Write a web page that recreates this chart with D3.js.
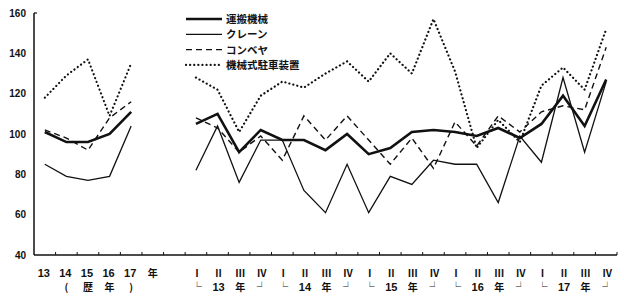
<!DOCTYPE html>
<html>
<head>
<meta charset="utf-8">
<script src="https://cdn.jsdelivr.net/npm/d3@7"></script>
<style>
  body { margin: 0; background: #fff; }
  text { fill: #111; }
</style>
</head>
<body>
<svg width="624" height="297"></svg>
<script>
// categories
var years = ['13', '14', '15', '16', '17'];
var quarterYears = ['13', '14', '15', '16', '17'];
var quarterNames = ['Ⅰ', 'Ⅱ', 'Ⅲ', 'Ⅳ'];
var yTicks = [40, 60, 80, 100, 120, 140, 160];

// annual values (13..17)
var unpanYear   = [101, 96, 96, 100, 111];
var craneYear   = [85, 79, 77, 79, 104];
var conveyYear  = [102, 98, 92, 108, 116];
var parkingYear = [118, 129, 137, 109, 135];

// quarterly values (13 I .. 17 IV)
var unpanQ   = [105, 110, 91, 102, 97, 97, 92, 100, 90, 93, 101, 102, 101, 99, 103, 98, 105, 119, 104, 127];
var craneQ   = [82, 104, 76, 97, 97, 72, 61, 85, 61, 79, 75, 87, 85, 85, 66, 99, 86, 128, 91, 126];
var conveyQ  = [108, 103, 91, 99, 87, 109, 97, 109, 97, 85, 98, 83, 106, 94, 109, 101, 111, 114, 112, 143];
var parkingQ = [128, 122, 101, 119, 126, 123, 130, 136, 126, 140, 130, 157, 131, 93, 107, 96, 124, 133, 122, 152];

var series = [
  { name: '運搬機械', year: unpanYear, q: unpanQ, width: 2.6, dash: null },
  { name: 'クレーン', year: craneYear, q: craneQ, width: 1.3, dash: null },
  { name: 'コンベヤ', year: conveyYear, q: conveyQ, width: 1.4, dash: '6,4' },
  { name: '機械式駐車装置', year: parkingYear, q: parkingQ, width: 2.2, dash: '0.1,4' }
];

var qKeys = [];
quarterYears.forEach(function(y) {
  quarterNames.forEach(function(q) { qKeys.push(y + q); });
});
var cats = years.concat(['年', '_gap']).concat(qKeys);

var svg = d3.select('svg');
var x = d3.scaleBand().domain(cats).range([34, 617]);
var y = d3.scaleLinear().domain([40, 160]).range([255, 13]);
var cx = function(k) { return x(k) + x.bandwidth() / 2; };

var numFont = '"Liberation Sans", Arial, sans-serif';
var jpFont = '"Noto Sans CJK JP", sans-serif';

// y axis
svg.append('line')
  .attr('x1', 34).attr('x2', 34).attr('y1', y(160)).attr('y2', y(40))
  .attr('stroke', '#111').attr('stroke-width', 1.5);
svg.append('line')
  .attr('x1', 34).attr('x2', 37).attr('y1', y(160)).attr('y2', y(160))
  .attr('stroke', '#111').attr('stroke-width', 1.2);
svg.selectAll('text.ytick').data(yTicks).enter()
  .append('text').classed('ytick', true)
  .attr('x', 26).attr('y', function(d) { return y(d) + 3.5; })
  .attr('text-anchor', 'end')
  .style('font-family', numFont).style('font-size', '10px').style('font-weight', 'bold')
  .text(function(d) { return d; });

// x axis
svg.append('line')
  .attr('x1', 34).attr('x2', 617).attr('y1', y(40)).attr('y2', y(40))
  .attr('stroke', '#111').attr('stroke-width', 1.5);
svg.selectAll('line.xtick').data(cats).enter()
  .append('line').classed('xtick', true)
  .attr('x1', function(d) { return x(d) + x.bandwidth(); })
  .attr('x2', function(d) { return x(d) + x.bandwidth(); })
  .attr('y1', y(40)).attr('y2', y(40) - 3)
  .attr('stroke', '#111').attr('stroke-width', 1);

// year labels
svg.selectAll('text.year').data(years).enter()
  .append('text').classed('year', true)
  .attr('x', function(d) { return cx(d) - 1; }).attr('y', 277)
  .attr('text-anchor', 'middle')
  .style('font-family', numFont).style('font-size', '11px').style('font-weight', 'bold')
  .text(function(d) { return d; });
svg.append('text')
  .attr('x', cx('年')).attr('y', 277).attr('text-anchor', 'middle')
  .style('font-family', jpFont).style('font-size', '10px').style('font-weight', 'bold')
  .text('年');
var rekiRow = ['(', '歴', '年', ')'];
svg.selectAll('text.reki').data(rekiRow).enter()
  .append('text').classed('reki', true)
  .attr('x', function(d, i) { return cx(years[i + 1]); }).attr('y', 291)
  .attr('text-anchor', 'middle')
  .style('font-family', jpFont).style('font-size', '10px').style('font-weight', 'bold')
  .text(function(d) { return d; });

// quarter labels
svg.selectAll('text.qname').data(qKeys).enter()
  .append('text').classed('qname', true)
  .attr('x', function(d) { return cx(d) + 1; }).attr('y', 277)
  .attr('text-anchor', 'middle')
  .style('font-family', jpFont).style('font-size', '10px').style('font-weight', 'bold')
  .text(function(d, i) { return quarterNames[i % 4]; });
svg.selectAll('text.qyear').data(qKeys).enter()
  .append('text').classed('qyear', true)
  .attr('x', function(d) { return cx(d) + 1; }).attr('y', 291)
  .attr('text-anchor', 'middle')
  .style('font-family', function(d, i) { return i % 4 == 1 ? numFont : jpFont; })
  .style('font-size', function(d, i) { return i % 4 == 1 ? '11px' : '10px'; })
  .style('font-weight', 'bold')
  .text(function(d, i) {
    var k = i % 4;
    if (k == 0) return '└';
    if (k == 1) return quarterYears[Math.floor(i / 4)];
    if (k == 2) return '年';
    return '┘';
  });

// lines
var line = d3.line().x(function(d) { return cx(d.k); }).y(function(d) { return y(d.v); });
series.forEach(function(s) {
  var parts = [
    s.year.map(function(v, i) { return { k: years[i], v: v }; }),
    s.q.map(function(v, i) { return { k: qKeys[i], v: v }; })
  ];
  svg.selectAll(null).data(parts).enter()
    .append('path')
    .attr('d', line)
    .attr('fill', 'none')
    .attr('stroke', '#111')
    .attr('stroke-width', s.width)
    .attr('stroke-linejoin', 'miter')
    .attr('stroke-linecap', s.dash == '0.1,4' ? 'round' : 'butt')
    .attr('stroke-dasharray', s.dash);
});

// legend
var legend = svg.selectAll('g.legend').data(series).enter()
  .append('g').classed('legend', true)
  .attr('transform', function(d, i) { return 'translate(186,' + (19 + i * 15.3) + ')'; });
legend.append('line')
  .attr('x1', 0).attr('x2', 36).attr('y1', 0).attr('y2', 0)
  .attr('stroke', '#111')
  .attr('stroke-width', function(d) { return d.width; })
  .attr('stroke-linecap', function(d) { return d.dash == '0.1,4' ? 'round' : 'butt'; })
  .attr('stroke-dasharray', function(d) { return d.dash; });
legend.append('text')
  .attr('x', 40).attr('y', 4)
  .style('font-family', jpFont).style('font-size', '10.5px').style('font-weight', 'bold')
  .text(function(d) { return d.name; });
</script>
</body>
</html>
